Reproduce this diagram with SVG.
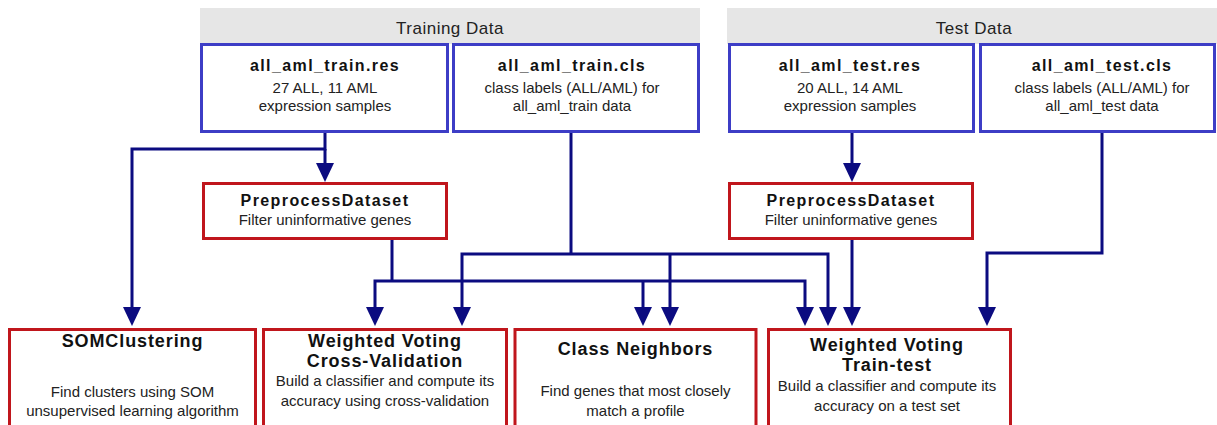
<svg xmlns="http://www.w3.org/2000/svg" width="1217" height="425" viewBox="0 0 1217 425">
<defs>
<style>
.hdr{fill:#e6e6e6;stroke:none}
.hdrt{font-family:"Liberation Sans",Arial,sans-serif;font-size:17px;letter-spacing:0.5px;fill:#222;text-anchor:middle}
.data{fill:#fff;stroke:#3d3dc6;stroke-width:3}
.task{fill:#fff;stroke:#c0161c;stroke-width:3}
.t1{font-family:"Liberation Sans",Arial,sans-serif;font-size:16px;font-weight:bold;letter-spacing:1.4px;fill:#111;text-anchor:middle}
.t2{font-family:"Liberation Sans",Arial,sans-serif;font-size:18px;font-weight:bold;letter-spacing:0.9px;fill:#111;text-anchor:middle}
.s{font-family:"Liberation Sans",Arial,sans-serif;font-size:15px;fill:#222;text-anchor:middle}
.c{fill:none;stroke:#0b0b80;stroke-width:3}
.ah{fill:#0b0b80}
</style>
</defs>
<rect x="0" y="0" width="1217" height="425" fill="#fff"/>

<g id="training-header">
<rect class="hdr" x="200" y="8" width="500" height="36"/>
<text class="hdrt" x="450" y="34">Training Data</text>
</g>
<g id="test-header">
<rect class="hdr" x="727" y="8" width="490" height="36"/>
<text class="hdrt" x="974" y="34">Test Data</text>
</g>

<g id="train-res">
<rect class="data" x="201.5" y="44.5" width="246" height="87"/>
<text class="t1" x="325" y="71">all_aml_train.res</text>
<text class="s" x="325" y="93">27 ALL, 11 AML</text>
<text class="s" x="325" y="111">expression samples</text>
</g>
<g id="train-cls">
<rect class="data" x="453.5" y="44.5" width="245" height="87"/>
<text class="t1" x="572" y="71">all_aml_train.cls</text>
<text class="s" x="572" y="93">class labels (ALL/AML) for</text>
<text class="s" x="572" y="111">all_aml_train data</text>
</g>
<g id="test-res">
<rect class="data" x="729.5" y="44.5" width="244" height="87"/>
<text class="t1" x="850" y="71">all_aml_test.res</text>
<text class="s" x="850" y="93">20 ALL, 14 AML</text>
<text class="s" x="850" y="111">expression samples</text>
</g>
<g id="test-cls">
<rect class="data" x="980.5" y="44.5" width="234" height="87"/>
<text class="t1" x="1102" y="71">all_aml_test.cls</text>
<text class="s" x="1102" y="93">class labels (ALL/AML) for</text>
<text class="s" x="1102" y="111">all_aml_test data</text>
</g>

<g id="preprocess-train">
<rect class="task" x="203.5" y="183.5" width="243" height="55"/>
<text class="t1" x="325" y="206">PreprocessDataset</text>
<text class="s" x="325" y="225">Filter uninformative genes</text>
</g>
<g id="preprocess-test">
<rect class="task" x="729.5" y="183.5" width="243" height="55"/>
<text class="t1" x="851" y="206">PreprocessDataset</text>
<text class="s" x="851" y="225">Filter uninformative genes</text>
</g>

<g id="som">
<rect class="task" x="9.5" y="329.5" width="246" height="110"/>
<text class="t2" x="132.5" y="347">SOMClustering</text>
<text class="s" x="132.5" y="397">Find clusters using SOM</text>
<text class="s" x="132.5" y="416">unsupervised learning algorithm</text>
</g>
<g id="wv-cv">
<rect class="task" x="263.5" y="329.5" width="243" height="110"/>
<text class="t2" x="385" y="347">Weighted Voting</text>
<text class="t2" x="385" y="367">Cross-Validation</text>
<text class="s" x="385" y="386">Build a classifier and compute its</text>
<text class="s" x="385" y="406">accuracy using cross-validation</text>
</g>
<g id="class-neighbors">
<rect class="task" x="515" y="329.5" width="241" height="110"/>
<text class="t2" x="635.5" y="355">Class Neighbors</text>
<text class="s" x="635.5" y="396">Find genes that most closely</text>
<text class="s" x="635.5" y="416">match a profile</text>
</g>
<g id="wv-tt">
<rect class="task" x="768.5" y="329.5" width="242" height="110"/>
<text class="t2" x="887" y="351">Weighted Voting</text>
<text class="t2" x="887" y="371">Train-test</text>
<text class="s" x="887" y="391">Build a classifier and compute its</text>
<text class="s" x="887" y="411">accuracy on a test set</text>
</g>

<g id="connectors">
<path class="c" d="M325,133 V149 H132 V307"/>
<path class="c" d="M325,149 V163"/>
<path class="c" d="M392,240 V281"/>
<path class="c" d="M375,307 V281 H805 V307"/>
<path class="c" d="M643,281 V307"/>
<path class="c" d="M571,133 V254"/>
<path class="c" d="M462,307 V254 H828 V307"/>
<path class="c" d="M670,254 V307"/>
<path class="c" d="M852,133 V163"/>
<path class="c" d="M852,240 V307"/>
<path class="c" d="M1102,133 V253 H987 V307"/>
<polygon class="ah" points="123,307 141,307 132,326"/>
<polygon class="ah" points="316,163 334,163 325,182"/>
<polygon class="ah" points="366,307 384,307 375,326"/>
<polygon class="ah" points="453,307 471,307 462,326"/>
<polygon class="ah" points="634,307 652,307 643,326"/>
<polygon class="ah" points="661,307 679,307 670,326"/>
<polygon class="ah" points="796,307 814,307 805,326"/>
<polygon class="ah" points="819,307 837,307 828,326"/>
<polygon class="ah" points="843,163 861,163 852,182"/>
<polygon class="ah" points="843,307 861,307 852,326"/>
<polygon class="ah" points="978,307 996,307 987,326"/>
</g>
</svg>
